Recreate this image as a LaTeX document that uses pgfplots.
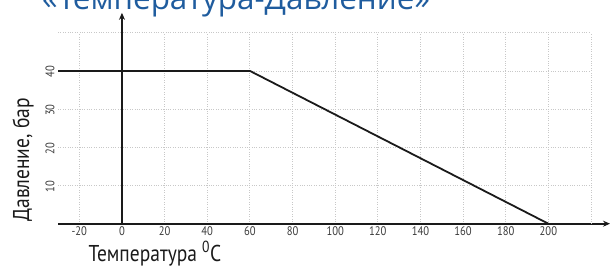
\documentclass[border=0pt]{standalone}
\usepackage{pgfplots}
\pgfplotsset{compat=1.18}
\usepackage{fontspec}
\setmainfont{PT Sans}
\newfontfamily\cond{PT Sans}[FakeStretch=0.85]
\newfontfamily\titlefont{Open Sans}
\usetikzlibrary{arrows.meta}
\definecolor{titleblue}{HTML}{1F5C9E}
\definecolor{axisdark}{HTML}{1A1A1A}
\definecolor{gridgray}{HTML}{C8C8C8}
\begin{document}
\begin{tikzpicture}[x=1bp,y=1bp]
\useasboundingbox (0,0) rectangle (612,267);
\node[anchor=base west, inner sep=0, text=titleblue, font=\titlefont\fontsize{31.5}{36}\selectfont] at (42,258) {«Температура-Давление»};
\begin{axis}[
  at={(58bp,43.3bp)}, anchor=south west,
  scale only axis, width=533bp, height=191bp,
  xmin=-30, xmax=220, ymin=0, ymax=50,
  axis x line*=bottom, axis y line*=left,
  x axis line style={draw=axisdark, line width=2.4bp, -{Stealth[length=7bp,width=6bp]}, shorten >=-19bp},
  y axis line style={draw=none},
  xtick={-20,0,...,200}, ytick={10,20,30,40},
  extra x ticks={220}, extra x tick labels={},
  extra y ticks={50}, extra y tick labels={},
  grid=major,
  major grid style={dotted, draw=gridgray, line width=0.8bp},
  tick style={draw=none},
  xticklabel style={font=\cond\fontsize{12.5}{14}\selectfont, text=axisdark!85, yshift=0.5bp},
  yticklabel style={font=\cond\fontsize{12.5}{14}\selectfont, text=axisdark!85, rotate=90, anchor=south, xshift=-1bp},
  /pgf/number format/assume math mode=true,
  clip=false,
]
\draw[draw=axisdark, line width=2bp, -{Stealth[length=7bp,width=6bp]}] (axis cs:0,0) -- (axis cs:0,55.2);
\addplot[draw=axisdark, line width=1.8bp] coordinates {(-30,40) (60,40) (200,0)};
\end{axis}
\node[anchor=base, inner sep=0, font=\cond\fontsize{23}{26}\selectfont, text=axisdark] at (155,5.5) {Температура \textsuperscript{0}C};
\node[anchor=center, rotate=90, font=\cond\fontsize{23}{26}\selectfont, text=axisdark] at (23,107) {Давление, бар};
\end{tikzpicture}
\end{document}
